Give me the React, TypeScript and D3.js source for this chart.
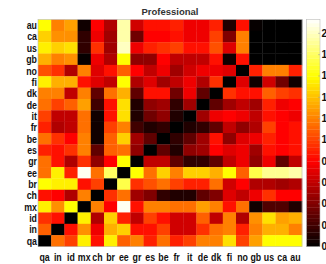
import React from "react";
import * as d3 from "d3";

const rowLabels = ["au","ca","us","gb","no","fi","dk","de","it","fr","be","es","gr","ee","br","ch","mx","id","in","qa"];
const colLabels = ["qa","in","id","mx","ch","br","ee","gr","es","be","fr","it","de","dk","fi","no","gb","us","ca","au"];
const colorbarTicks = [0,0.2,0.4,0.6,0.8,1,1.2,1.4,1.6,1.8,2];
const title = "Professional";

const rowAu = [1.6,1.2,1.3,0.05,0.8,0.55,1.95,0.65,0.85,0.85,0.9,0.75,0.75,0.9,0.1,0.85,0.02,0,0,0];
const rowCa = [1.45,1.25,1.25,0.15,0.75,0.5,1.95,0.35,0.8,0.8,0.85,0.75,0.75,1.0,0.4,1.2,0,0,0,0];
const rowUs = [1.55,1.45,1.5,0.15,0.95,0.5,2.0,0.75,0.9,0.95,1.0,0.85,0.85,1.05,0.7,1.2,0,0,0,0];
const rowGb = [1.35,1.2,1.25,0.02,0.75,0.55,1.6,0.45,0.45,0.8,0.6,0.6,0.6,0.85,0.05,0.85,0,0,0,0];
const rowNo = [1.05,0.95,0.55,1.2,0.7,0.85,1.1,0.8,0.6,0.75,0.5,0.65,0.75,0.75,0.7,0,0.9,1.2,1.2,0.9];
const rowFi = [1.55,1.35,1.35,0.85,0.7,0.6,1.6,0.55,0.7,0.5,0.6,0.75,0.55,0.95,0,0.7,0.05,0.65,0.35,0.05];
const rowDk = [1.2,1.2,0.6,1.2,0.3,1.15,1.35,0.3,0.85,0.85,0.35,0.75,0.3,0,0.95,0.85,0.85,1.1,1.0,0.95];
const rowDe = [1.15,1.0,1.1,1.3,0.2,0.85,1.5,0.1,0.45,0.5,0.15,0.5,0,0.3,0.5,0.6,0.5,0.9,0.75,0.8];
const rowIt = [1.0,0.6,0.6,1.15,0.05,0.85,1.5,0.1,0.35,0.45,0.1,0,0.5,0.75,0.8,0.75,0.6,0.85,0.8,0.75];
const rowFr = [0.9,0.55,0.6,1.15,0.05,1.0,1.2,0.2,0.1,0.15,0,0.1,0.15,0.3,0.6,0.45,0.55,1.0,0.8,0.85];
const rowBe = [1.15,0.95,0.8,1.2,0.05,1.1,1.45,0.5,0.3,0,0.15,0.3,0.5,0.85,0.45,0.7,0.75,0.9,0.8,0.85];
const rowEs = [0.9,0.85,0.95,1.2,0.3,1.1,1.15,0.45,0,0.3,0.1,0.45,0.5,0.8,0.7,0.75,0.5,0.85,0.8,0.85];
const rowGr = [1.15,0.85,0.55,0.95,0.45,0.8,1.6,0,0.6,0.6,0.3,0.15,0.15,0.3,0.6,0.75,0.45,0.75,0.3,0.6];
const rowEe = [1.15,1.55,0.9,2.1,1.15,1.8,0,1.6,1.15,1.45,1.2,1.45,1.45,1.35,1.6,1.1,1.75,1.9,1.9,1.95];
const rowBr = [1.6,1.55,1.55,0.85,1.0,0,1.75,0.95,1.05,1.15,1.0,0.9,0.9,1.15,0.65,0.8,0.55,0.55,0.5,0.55];
const rowCh = [0.85,0.8,0.55,1.2,0,0.95,1.15,0.5,0.4,0.15,0.1,0.1,0.3,0.4,0.7,0.6,0.75,0.95,0.8,0.8];
const rowMx = [1.55,1.25,1.6,0,1.2,0.8,2.1,0.85,1.2,1.2,1.15,1.15,1.3,1.2,0.85,1.15,0.05,0.25,0.25,0.1];
const rowId = [0.95,0.85,0,1.55,0.55,1.45,0.9,0.6,1.0,0.85,0.65,0.65,1.1,0.6,1.2,0.55,1.25,1.5,1.3,1.35];
const rowIn = [1.1,0,0.85,1.25,0.75,1.35,1.45,0.85,0.85,1.0,0.65,0.65,0.95,1.15,1.2,0.9,1.2,1.35,1.35,1.2];
const rowQa = [0,1.15,1.0,1.55,0.85,1.55,1.1,1.2,0.9,1.15,0.9,1.0,1.2,1.2,1.5,1.0,1.3,1.6,1.6,1.6];

const matrix = [rowAu,rowCa,rowUs,rowGb,rowNo,rowFi,rowDk,rowDe,rowIt,rowFr,rowBe,rowEs,rowGr,rowEe,rowBr,rowCh,rowMx,rowId,rowIn,rowQa];

const cMax = 2.13;

function hot(t: number): string {
  const c = (v: number) => Math.max(0, Math.min(1, v));
  const r = c(t / 0.375);
  const g = c((t - 0.375) / 0.375);
  const b = c((t - 0.75) / 0.25);
  return d3.rgb(r * 255, g * 255, b * 255).formatHex();
}

export default function App() {
  const W = 326, H = 264;
  const left = 38, right = 302, top = 19.5, bottom = 246.5;
  const x = d3.scaleBand<string>().domain(colLabels).range([left, right]);
  const y = d3.scaleBand<string>().domain(rowLabels).range([top, bottom]);
  const norm = d3.scaleLinear().domain([0, cMax]).range([0, 1]).clamp(true);
  const color = (v: number) => hot(norm(v));

  const cbX = 306.5, cbW = 13.5;
  const cbY = d3.scaleLinear().domain([0, cMax]).range([bottom, top]);
  const nBands = 64;
  const bands = d3.range(nBands).map(i => i);
  const bandH = (bottom - top) / nBands;

  const font = "'Liberation Sans', Arial, sans-serif";
  const sx = 0.8;

  return (
    <svg width={W} height={H} style={{ position: "absolute", left: 0, top: 0, background: "#fff" }}>
      <text x={170} y={14.5} textAnchor="middle" fontFamily={font} fontWeight="bold" fontSize={9.5} fill="#333">{title}</text>
      {matrix.map((row, ri) =>
        row.map((v, ci) => (
          <rect key={`${ri}-${ci}`} x={x(colLabels[ci])!} y={y(rowLabels[ri])!}
            width={x.bandwidth() + 0.3} height={y.bandwidth() + 0.3} fill={color(v)} />
        ))
      )}
      <rect x={left} y={top} width={right - left} height={bottom - top} fill="none" stroke="#bbb" strokeWidth={0.6} />
      {rowLabels.map(l => (
        <text key={"r" + l} transform={`translate(37,${y(l)! + y.bandwidth() / 2}) scale(${sx},1)`} dy="0.36em" textAnchor="end"
          fontFamily={font} fontWeight="bold" fontSize={11} fill="#111">{l}</text>
      ))}
      {colLabels.map(l => (
        <text key={"c" + l} transform={`translate(${x(l)! + x.bandwidth() / 2},257) scale(${sx},1)`} dy="0.36em" textAnchor="middle"
          fontFamily={font} fontWeight="bold" fontSize={11} fill="#111">{l}</text>
      ))}
      {bands.map(i => (
        <rect key={"b" + i} x={cbX} y={bottom - (i + 1) * bandH} width={cbW} height={bandH + 0.3}
          fill={hot((i + 0.5) / nBands)} />
      ))}
      <rect x={cbX} y={top} width={cbW} height={bottom - top} fill="none" stroke="#bbb" strokeWidth={0.6} />
      {colorbarTicks.map(t => (
        <g key={"t" + t}>
          <line x1={cbX + cbW - 2} x2={cbX + cbW} y1={cbY(t)} y2={cbY(t)} stroke="#999" strokeWidth={0.5} />
          <text x={321.5} y={cbY(t)} dy="0.35em" fontFamily={font} fontWeight="bold" fontSize={10} fill="#111">{String(t)}</text>
        </g>
      ))}
    </svg>
  );
}
